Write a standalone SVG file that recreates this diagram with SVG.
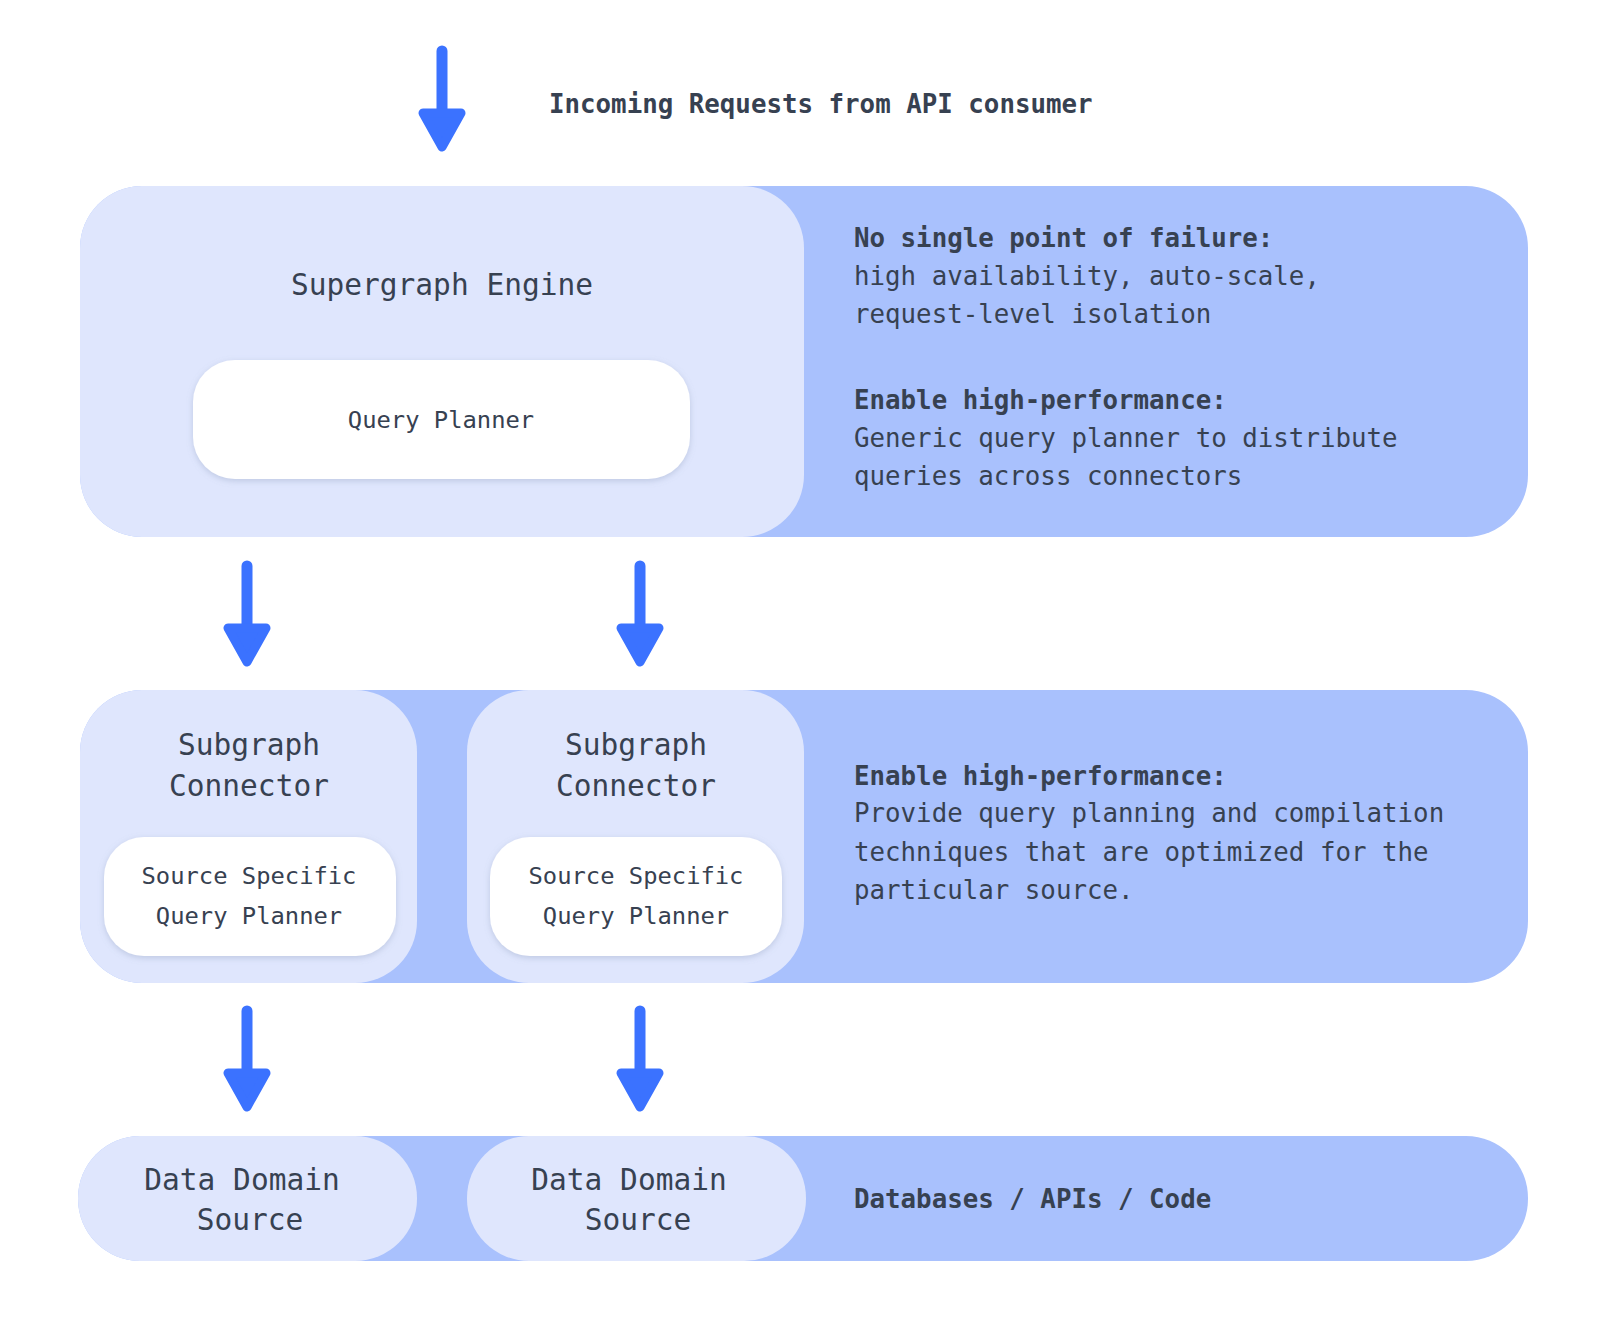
<svg xmlns="http://www.w3.org/2000/svg" width="1608" height="1330" viewBox="0 0 1608 1330">
<defs>
<filter id="sh" x="-10%" y="-20%" width="120%" height="150%">
<feDropShadow dx="0" dy="2" stdDeviation="3" flood-color="#8090b0" flood-opacity="0.35"/>
</filter>
<g id="arrow">
<line x1="0" y1="0" x2="0" y2="62" stroke="#3B72FF" stroke-width="11" stroke-linecap="round"/>
<path d="M-19,62 L19,62 L0,96 Z" fill="#3B72FF" stroke="#3B72FF" stroke-width="9" stroke-linejoin="round"/>
</g>
</defs>
<style>
text{font-family:"DejaVu Sans Mono","Liberation Mono",monospace;fill:#374151}
.t30{font-size:29.5px}
.t24{font-size:23.8px}
.t26{font-size:25.8px}
.b{font-weight:bold}
.outer{fill:#A9C1FD}
.inner{fill:#DFE6FD}
.card{fill:#FFFFFF;filter:url(#sh)}
</style>
<rect width="1608" height="1330" fill="#FFFFFF"/>

<g id="connectors">
<use href="#arrow" x="442" y="51"/>
<use href="#arrow" x="247" y="566"/>
<use href="#arrow" x="640" y="566"/>
<use href="#arrow" x="247" y="1011"/>
<use href="#arrow" x="640" y="1011"/>
</g>

<g id="incoming">
<text class="t26 b" x="549" y="113">Incoming Requests from API consumer</text>
</g>

<g id="engine-layer">
<rect class="outer" x="80" y="186" width="1448" height="351" rx="62" ry="62"/>
<g id="supergraph-engine">
<rect class="inner" x="80" y="186" width="724" height="351" rx="62" ry="62"/>
<text class="t30" x="442" y="295" text-anchor="middle">Supergraph Engine</text>
</g>
<g id="query-planner">
<rect class="card" x="193" y="360" width="497" height="119" rx="42" ry="42"/>
<text class="t24" x="441" y="428" text-anchor="middle">Query Planner</text>
</g>
<g id="engine-notes">
<text class="t26 b" x="854" y="247">No single point of failure:</text>
<text class="t26" x="854" y="285">high availability, auto-scale,</text>
<text class="t26" x="854" y="323">request-level isolation</text>
<text class="t26 b" x="854" y="409">Enable high-performance:</text>
<text class="t26" x="854" y="447">Generic query planner to distribute</text>
<text class="t26" x="854" y="485">queries across connectors</text>
</g>
</g>

<g id="connector-layer">
<rect class="outer" x="80" y="690" width="1448" height="293" rx="62" ry="62"/>
<g id="subgraph-connector-1">
<rect class="inner" x="80" y="690" width="337" height="293" rx="62" ry="62"/>
<text class="t30" x="249" y="755" text-anchor="middle">Subgraph</text>
<text class="t30" x="249" y="796" text-anchor="middle">Connector</text>
</g>
<g id="ssqp-1">
<rect class="card" x="104" y="837" width="292" height="119" rx="40" ry="40"/>
<text class="t24" x="249" y="884" text-anchor="middle">Source Specific</text>
<text class="t24" x="249" y="924" text-anchor="middle">Query Planner</text>
</g>
<g id="subgraph-connector-2">
<rect class="inner" x="467" y="690" width="337" height="293" rx="62" ry="62"/>
<text class="t30" x="636" y="755" text-anchor="middle">Subgraph</text>
<text class="t30" x="636" y="796" text-anchor="middle">Connector</text>
</g>
<g id="ssqp-2">
<rect class="card" x="490" y="837" width="292" height="119" rx="40" ry="40"/>
<text class="t24" x="636" y="884" text-anchor="middle">Source Specific</text>
<text class="t24" x="636" y="924" text-anchor="middle">Query Planner</text>
</g>
<g id="connector-notes">
<text class="t26 b" x="854" y="785">Enable high-performance:</text>
<text class="t26" x="854" y="822">Provide query planning and compilation</text>
<text class="t26" x="854" y="861">techniques that are optimized for the</text>
<text class="t26" x="854" y="899">particular source.</text>
</g>
</g>

<g id="source-layer">
<rect class="outer" x="78" y="1136" width="1450" height="125" rx="62" ry="62"/>
<g id="data-source-1">
<rect class="inner" x="78" y="1136" width="339" height="125" rx="62" ry="62"/>
<text class="t30" x="242" y="1190" text-anchor="middle">Data Domain</text>
<text class="t30" x="250" y="1230" text-anchor="middle">Source</text>
</g>
<g id="data-source-2">
<rect class="inner" x="467" y="1136" width="339" height="125" rx="62" ry="62"/>
<text class="t30" x="629" y="1190" text-anchor="middle">Data Domain</text>
<text class="t30" x="638" y="1230" text-anchor="middle">Source</text>
</g>
<g id="source-notes">
<text class="t26 b" x="854" y="1208">Databases / APIs / Code</text>
</g>
</g>
</svg>
